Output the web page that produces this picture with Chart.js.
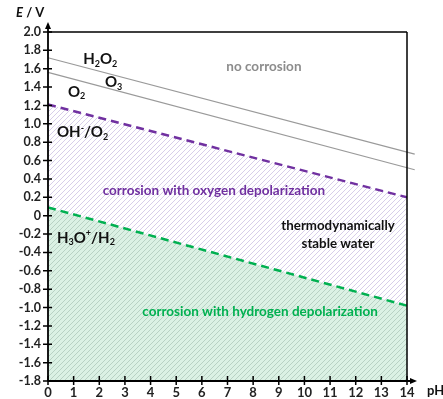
<!DOCTYPE html>
<html>
<head>
<meta charset="utf-8">
<script src="https://cdn.jsdelivr.net/npm/chart.js@4.4.1/dist/chart.umd.min.js"></script>
<style>
  html, body { margin: 0; padding: 0; background: #fff; }
  #wrap { width: 443px; height: 399px; }
</style>
</head>
<body>
<div id="wrap"><canvas id="myChart" width="443" height="399"></canvas></div>
<script>
// pH end points of the equilibrium lines
const pH = [0, 14];
const pHExt = [0, 14.3];
// potentials (V)
const eH2 = [0.09, -0.98];   // H3O+/H2
const eO2 = [1.21, 0.20];    // OH-/O2
const eH2O2 = [1.72, 0.67];
const eO3 = [1.56, 0.50];

// text labels: [parts, pH, E, align, color, size]
const labels = [
    [[['H'], ['2', 'sub'], ['O'], ['2', 'sub']], 1.37, 1.70, 'left', '#111', 15],
    [[['O'], ['3', 'sub']], 2.22, 1.45, 'left', '#111', 15],
    [[['O'], ['2', 'sub']], 0.78, 1.35, 'left', '#111', 15],
    [[['OH'], ['-', 'sup'], ['/O'], ['2', 'sub']], 0.35, 0.91, 'left', '#111', 15],
    [[['H'], ['3', 'sub'], ['O'], ['+', 'sup'], ['/H'], ['2', 'sub']], 0.35, -0.24, 'left', '#111', 15],
    [[['no corrosion']], 8.42, 1.62, 'center', '#8c8c8c', 13.5],
    [[['corrosion with oxygen depolarization']], 6.47, 0.27, 'center', '#7030a0', 13.5],
    [[['thermodynamically']], 11.31, -0.11, 'center', '#111', 13.3],
    [[['stable water']], 11.31, -0.31, 'center', '#111', 13.3],
    [[['corrosion with hydrogen depolarization']], 8.27, -1.05, 'center', '#00b050', 13.5]
];

const FONT = 'Lato, "Open Sans", sans-serif';

function hatch(bg, fg) {
    const c = document.createElement('canvas');
    c.width = 5; c.height = 5;
    const g = c.getContext('2d');
    if (bg) { g.fillStyle = bg; g.fillRect(0, 0, 5, 5); }
    g.strokeStyle = fg;
    g.lineWidth = 0.9;
    g.beginPath();
    g.moveTo(-1, 6); g.lineTo(6, -1);
    g.moveTo(-1, 1); g.lineTo(1, -1);
    g.moveTo(4, 6); g.lineTo(6, 4);
    g.stroke();
    return g.createPattern(c, 'repeat');
}

canvas = document.getElementById('myChart').getContext('2d');

function pts(xs, ys) {
    return xs.map((x, i) => ({x: x, y: ys[i]}));
}

function drawParts(ctx, parts, x, y, align, size) {
    const big = 'bold ' + size + 'px ' + FONT;
    const small = 'bold ' + Math.round(size * 0.62) + 'px ' + FONT;
    let w = 0;
    parts.forEach(p => {
        ctx.font = p[1] ? small : big;
        w += ctx.measureText(p[0]).width;
    });
    let cx = align === 'center' ? x - w / 2 : x;
    ctx.textAlign = 'left';
    ctx.textBaseline = 'middle';
    parts.forEach(p => {
        ctx.font = p[1] ? small : big;
        let dy = 0;
        if (p[1] === 'sub') dy = size * 0.3;
        if (p[1] === 'sup') dy = -size * 0.3;
        ctx.fillText(p[0], cx, y + dy);
        cx += ctx.measureText(p[0]).width;
    });
}

const decor = {
    id: 'decor',
    afterDatasetsDraw(chart) {
        const ctx = chart.ctx;
        const a = chart.chartArea;
        const xs = chart.scales.x, ys = chart.scales.y;
        ctx.save();
        ctx.strokeStyle = '#000';
        ctx.fillStyle = '#000';
        // frame top and right
        ctx.lineWidth = 1.5;
        ctx.beginPath();
        ctx.moveTo(a.left, a.top); ctx.lineTo(a.right, a.top);
        ctx.moveTo(a.right, a.top); ctx.lineTo(a.right, a.bottom);
        ctx.stroke();
        // axes
        ctx.lineWidth = 1.8;
        ctx.beginPath();
        ctx.moveTo(a.left, a.bottom); ctx.lineTo(a.left, a.top - 6);
        ctx.moveTo(a.left, a.bottom); ctx.lineTo(a.right + 6, a.bottom);
        ctx.stroke();
        // arrow heads
        ctx.beginPath();
        ctx.moveTo(a.left, a.top - 10);
        ctx.lineTo(a.left - 3, a.top - 3);
        ctx.lineTo(a.left + 3, a.top - 3);
        ctx.closePath(); ctx.fill();
        ctx.beginPath();
        ctx.moveTo(a.right + 10, a.bottom);
        ctx.lineTo(a.right + 3, a.bottom - 3);
        ctx.lineTo(a.right + 3, a.bottom + 3);
        ctx.closePath(); ctx.fill();
        // tick marks crossing the axes
        ctx.lineWidth = 1.5;
        ctx.beginPath();
        ys.ticks.forEach(t => {
            const py = ys.getPixelForValue(t.value);
            ctx.moveTo(a.left - 5, py); ctx.lineTo(a.left + 4, py);
        });
        xs.ticks.forEach(t => {
            const px = xs.getPixelForValue(t.value);
            ctx.moveTo(px, a.bottom - 5); ctx.lineTo(px, a.bottom + 4);
        });
        ctx.stroke();
        // axis titles
        ctx.fillStyle = '#111';
        ctx.textBaseline = 'middle';
        ctx.textAlign = 'left';
        ctx.font = 'italic bold 13px ' + FONT;
        ctx.fillText('E', 16, 13);
        const ew = ctx.measureText('E').width;
        ctx.font = 'bold 13px ' + FONT;
        ctx.fillText(' / V', 16 + ew, 13);
        ctx.fillText('pH', 427, 391);
        // region and species labels
        labels.forEach(l => {
            ctx.fillStyle = l[4];
            drawParts(ctx, l[0], xs.getPixelForValue(l[1]), ys.getPixelForValue(l[2]), l[3], l[5]);
        });
        ctx.restore();
    }
};

chart = new Chart(canvas, {
    type: 'line',
    data: {
        datasets: [{
            data: pts(pH, eH2),
            borderColor: '#00b050',
            borderWidth: 2.5,
            borderDash: [8, 5],
            backgroundColor: hatch('#dbf1e4', '#b3cdbf'),
            fill: 'start',
            pointRadius: 0
        }, {
            data: pts(pH, eO2),
            borderColor: '#7030a0',
            borderWidth: 2.5,
            borderDash: [8, 5],
            backgroundColor: hatch('#ffffff', '#d2c8e6'),
            fill: '-1',
            pointRadius: 0
        }, {
            data: pts(pHExt, eH2O2),
            borderColor: '#9a9a9a',
            borderWidth: 1.2,
            fill: false,
            pointRadius: 0,
            clip: false
        }, {
            data: pts(pHExt, eO3),
            borderColor: '#9a9a9a',
            borderWidth: 1.2,
            fill: false,
            pointRadius: 0,
            clip: false
        }]
    },
    options: {
        responsive: false,
        animation: false,
        events: [],
        layout: { padding: { top: 32, right: 36, left: 0, bottom: 0 } },
        plugins: { legend: { display: false }, tooltip: { enabled: false } },
        scales: {
            x: {
                type: 'linear',
                min: 0,
                max: 14,
                grid: { display: false, drawTicks: false },
                border: { display: false },
                ticks: {
                    stepSize: 1,
                    padding: 4,
                    color: '#222',
                    font: { family: FONT, size: 13, weight: 'bold' }
                },
                afterFit: (s) => { s.height = 18; }
            },
            y: {
                type: 'linear',
                min: -1.8,
                max: 2.0,
                grid: { display: false, drawTicks: false },
                border: { display: false },
                ticks: {
                    stepSize: 0.2,
                    padding: 7,
                    color: '#222',
                    font: { family: FONT, size: 12.5, weight: 'bold' },
                    callback: (v) => Math.abs(v) < 1e-9 ? '0' : v.toFixed(1)
                },
                afterFit: (s) => { s.width = 48; }
            }
        }
    },
    plugins: [decor]
});
</script>
</body>
</html>
